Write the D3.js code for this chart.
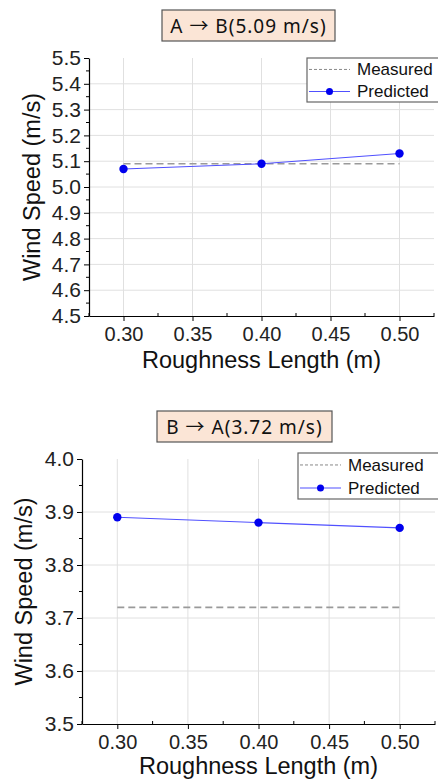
<!DOCTYPE html>
<html>
<head>
<meta charset="utf-8">
<script src="https://cdn.jsdelivr.net/npm/d3@7"></script>
<style>
  body { margin: 0; background: #fff; }
  svg { display: block; font-family: 'Liberation Sans', Arial, sans-serif; }
</style>
</head>
<body>
<svg id="chart" width="438" height="782"></svg>
<script>
// roughness lengths (m)
const roughness = [0.30, 0.40, 0.50];
const xTicks = [0.30, 0.35, 0.40, 0.45, 0.50];

// panel 1: A -> B
const titleAB = 'A \u2192 B(5.09 m/s)';
const predictedAB = [5.07, 5.09, 5.13];
const measuredAB = 5.09;
const yTicksAB = [4.5, 4.6, 4.7, 4.8, 4.9, 5.0, 5.1, 5.2, 5.3, 5.4, 5.5];

// panel 2: B -> A
const titleBA = 'B \u2192 A(3.72 m/s)';
const predictedBA = [3.89, 3.88, 3.87];
const measuredBA = 3.72;
const yTicksBA = [3.5, 3.6, 3.7, 3.8, 3.9, 4.0];

const svg = d3.select('#chart');

function drawPanel(opt) {
  const g = svg.append('g');

  const x = d3.scaleLinear().domain([0.275, 0.525]).range([opt.left, opt.right]);
  const y = d3.scaleLinear().domain(opt.yDomain).range([opt.bottom, opt.top]);

  // grid
  g.append('g').selectAll('line.vg')
    .data(xTicks)
    .enter()
    .append('line')
    .attr('x1', d => x(d)).attr('x2', d => x(d))
    .attr('y1', opt.top).attr('y2', opt.bottom)
    .attr('stroke', '#e0e0e0').attr('stroke-width', 1);
  g.append('g').selectAll('line.hg')
    .data(opt.yTicks.slice(1, -1))
    .enter()
    .append('line')
    .attr('x1', opt.left).attr('x2', opt.right)
    .attr('y1', d => y(d)).attr('y2', d => y(d))
    .attr('stroke', '#e0e0e0').attr('stroke-width', 1);

  // minor ticks
  const xMinor = xTicks.map(d => d - 0.025).concat([0.525]);
  const yMinor = opt.yTicks.slice(0, -1).map(d => d + opt.yStep / 2);

  // axes
  const xAxis = d3.axisBottom(x)
    .tickValues(xTicks)
    .tickFormat(d3.format('.2f'))
    .tickSizeInner(5).tickSizeOuter(0).tickPadding(6);
  const yAxis = d3.axisLeft(y)
    .tickValues(opt.yTicks)
    .tickFormat(d3.format('.1f'))
    .tickSizeInner(5).tickSizeOuter(0).tickPadding(3);

  const gx = g.append('g')
    .attr('transform', `translate(0, ${opt.bottom})`)
    .call(xAxis);
  gx.selectAll('text').style('font-size', '20px').attr('fill', '#222');
  gx.append('g').selectAll('line')
    .data(xMinor)
    .enter()
    .append('line')
    .attr('x1', d => x(d)).attr('x2', d => x(d))
    .attr('y1', -3).attr('y2', 0)
    .attr('stroke', '#000');

  const gy = g.append('g')
    .attr('transform', `translate(${opt.left}, 0)`)
    .call(yAxis);
  gy.selectAll('text').style('font-size', '21px').attr('fill', '#222');
  gy.append('g').selectAll('line')
    .data(yMinor)
    .enter()
    .append('line')
    .attr('x1', -3).attr('x2', 0)
    .attr('y1', d => y(d)).attr('y2', d => y(d))
    .attr('stroke', '#000');
  g.selectAll('.domain').attr('stroke', '#000').attr('stroke-width', 1.2);

  // measured line
  g.append('line')
    .attr('x1', x(roughness[0])).attr('x2', x(roughness[roughness.length - 1]))
    .attr('y1', y(opt.measured)).attr('y2', y(opt.measured))
    .attr('stroke', '#9a9a9a').attr('stroke-width', 1.6)
    .attr('stroke-dasharray', '7,4');

  // predicted line + markers
  const line = d3.line().x((d, i) => x(roughness[i])).y(d => y(d));
  g.append('path')
    .datum(opt.predicted)
    .attr('d', line)
    .attr('fill', 'none')
    .attr('stroke', '#5050ff')
    .attr('stroke-width', 1.1);
  g.selectAll('circle.pt')
    .data(opt.predicted)
    .enter()
    .append('circle')
    .attr('cx', (d, i) => x(roughness[i]))
    .attr('cy', d => y(d))
    .attr('r', 4.2)
    .attr('fill', '#0000ee');

  // axis titles
  g.append('text')
    .attr('x', (opt.left + opt.right) / 2)
    .attr('y', opt.xTitleY)
    .attr('text-anchor', 'middle')
    .style('font-size', '23.5px')
    .attr('fill', '#111')
    .text('Roughness Length (m)');
  g.append('text')
    .attr('transform', `translate(${opt.yTitleX}, ${(opt.top + opt.bottom) / 2}) rotate(-90)`)
    .attr('text-anchor', 'middle')
    .style('font-size', '23.5px')
    .attr('fill', '#111')
    .text('Wind Speed (m/s)');

  // title box
  g.append('rect')
    .attr('x', opt.titleBox[0]).attr('y', opt.titleBox[1])
    .attr('width', opt.titleBox[2]).attr('height', opt.titleBox[3])
    .attr('fill', '#fbe5d6').attr('stroke', '#555').attr('stroke-width', 1.2);
  g.append('text')
    .attr('x', opt.titleBox[0] + opt.titleBox[2] / 2)
    .attr('y', opt.titleBox[1] + opt.titleBox[3] / 2 + 7)
    .attr('text-anchor', 'middle')
    .style('font-family', "'Noto Sans', 'Noto Sans CJK KR', sans-serif")
    .style('font-size', '19px')
    .style('letter-spacing', '1px')
    .attr('fill', '#111')
    .text(opt.title);

  // legend
  const lb = opt.legendBox;
  const lg = g.append('g');
  lg.append('rect')
    .attr('x', lb[0]).attr('y', lb[1]).attr('width', lb[2]).attr('height', lb[3])
    .attr('fill', '#fff').attr('stroke', '#666').attr('stroke-width', 1.2);
  const row1 = lb[1] + lb[3] * 0.26;
  const row2 = lb[1] + lb[3] * 0.76;
  lg.append('line')
    .attr('x1', lb[0] + 2).attr('x2', lb[0] + opt.legendLine)
    .attr('y1', row1).attr('y2', row1)
    .attr('stroke', '#888').attr('stroke-width', 1)
    .attr('stroke-dasharray', '3,2');
  lg.append('line')
    .attr('x1', lb[0] + 2).attr('x2', lb[0] + opt.legendLine)
    .attr('y1', row2).attr('y2', row2)
    .attr('stroke', '#5050ff').attr('stroke-width', 1.1);
  lg.append('circle')
    .attr('cx', lb[0] + 2 + (opt.legendLine - 2) / 2).attr('cy', row2)
    .attr('r', 3.5).attr('fill', '#0000ee');
  lg.append('text')
    .attr('x', lb[0] + opt.legendLine + 7).attr('y', row1 + 6)
    .style('font-size', '17px').attr('fill', '#111')
    .text('Measured');
  lg.append('text')
    .attr('x', lb[0] + opt.legendLine + 7).attr('y', row2 + 6)
    .style('font-size', '17px').attr('fill', '#111')
    .text('Predicted');
}

drawPanel({
  title: titleAB,
  predicted: predictedAB,
  measured: measuredAB,
  yTicks: yTicksAB,
  yStep: 0.1,
  yDomain: [4.5, 5.5],
  left: 89, right: 434, top: 58, bottom: 316,
  xTitleY: 368, yTitleX: 40,
  titleBox: [162, 10, 173, 31],
  legendBox: [307, 58, 132, 44],
  legendLine: 43
});

drawPanel({
  title: titleBA,
  predicted: predictedBA,
  measured: measuredBA,
  yTicks: yTicksBA,
  yStep: 0.1,
  yDomain: [3.5, 4.0],
  left: 82, right: 435, top: 459, bottom: 724,
  xTitleY: 774, yTitleX: 32,
  titleBox: [157, 411, 175, 31],
  legendBox: [298, 453, 141, 46],
  legendLine: 43
});
</script>
</body>
</html>
